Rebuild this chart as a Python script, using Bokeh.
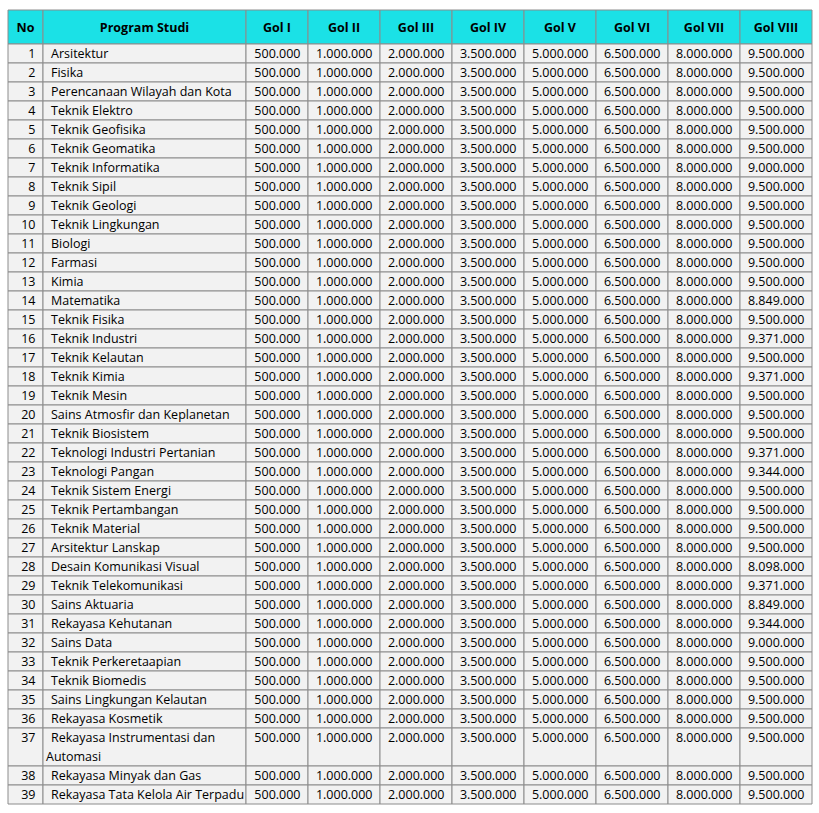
from bokeh.plotting import figure
from bokeh.models import ColumnDataSource, Range1d
from bokeh.core.properties import value
from bokeh.embed import file_html
from bokeh.resources import INLINE

# ---------------- data ----------------
headers = ["No", "Program Studi", "Gol I", "Gol II", "Gol III", "Gol IV",
           "Gol V", "Gol VI", "Gol VII", "Gol VIII"]

program_studi = [
    "Arsitektur", "Fisika", "Perencanaan Wilayah dan Kota", "Teknik Elektro",
    "Teknik Geofisika", "Teknik Geomatika", "Teknik Informatika", "Teknik Sipil",
    "Teknik Geologi", "Teknik Lingkungan", "Biologi", "Farmasi", "Kimia",
    "Matematika", "Teknik Fisika", "Teknik Industri", "Teknik Kelautan",
    "Teknik Kimia", "Teknik Mesin", "Sains Atmosfir dan Keplanetan",
    "Teknik Biosistem", "Teknologi Industri Pertanian", "Teknologi Pangan",
    "Teknik Sistem Energi", "Teknik Pertambangan", "Teknik Material",
    "Arsitektur Lanskap", "Desain Komunikasi Visual", "Teknik Telekomunikasi",
    "Sains Aktuaria", "Rekayasa Kehutanan", "Sains Data",
    "Teknik Perkeretaapian", "Teknik Biomedis", "Sains Lingkungan Kelautan",
    "Rekayasa Kosmetik", "Rekayasa Instrumentasi dan\nAutomasi",
    "Rekayasa Minyak dan Gas", "Rekayasa Tata Kelola Air Terpadu",
]

gol_1 = [500000, 500000, 500000, 500000, 500000, 500000, 500000, 500000,
         500000, 500000, 500000, 500000, 500000, 500000, 500000, 500000,
         500000, 500000, 500000, 500000, 500000, 500000, 500000, 500000,
         500000, 500000, 500000, 500000, 500000, 500000, 500000, 500000,
         500000, 500000, 500000, 500000, 500000, 500000, 500000]
gol_2 = [1000000, 1000000, 1000000, 1000000, 1000000, 1000000, 1000000,
         1000000, 1000000, 1000000, 1000000, 1000000, 1000000, 1000000,
         1000000, 1000000, 1000000, 1000000, 1000000, 1000000, 1000000,
         1000000, 1000000, 1000000, 1000000, 1000000, 1000000, 1000000,
         1000000, 1000000, 1000000, 1000000, 1000000, 1000000, 1000000,
         1000000, 1000000, 1000000, 1000000]
gol_3 = [2000000, 2000000, 2000000, 2000000, 2000000, 2000000, 2000000,
         2000000, 2000000, 2000000, 2000000, 2000000, 2000000, 2000000,
         2000000, 2000000, 2000000, 2000000, 2000000, 2000000, 2000000,
         2000000, 2000000, 2000000, 2000000, 2000000, 2000000, 2000000,
         2000000, 2000000, 2000000, 2000000, 2000000, 2000000, 2000000,
         2000000, 2000000, 2000000, 2000000]
gol_4 = [3500000, 3500000, 3500000, 3500000, 3500000, 3500000, 3500000,
         3500000, 3500000, 3500000, 3500000, 3500000, 3500000, 3500000,
         3500000, 3500000, 3500000, 3500000, 3500000, 3500000, 3500000,
         3500000, 3500000, 3500000, 3500000, 3500000, 3500000, 3500000,
         3500000, 3500000, 3500000, 3500000, 3500000, 3500000, 3500000,
         3500000, 3500000, 3500000, 3500000]
gol_5 = [5000000, 5000000, 5000000, 5000000, 5000000, 5000000, 5000000,
         5000000, 5000000, 5000000, 5000000, 5000000, 5000000, 5000000,
         5000000, 5000000, 5000000, 5000000, 5000000, 5000000, 5000000,
         5000000, 5000000, 5000000, 5000000, 5000000, 5000000, 5000000,
         5000000, 5000000, 5000000, 5000000, 5000000, 5000000, 5000000,
         5000000, 5000000, 5000000, 5000000]
gol_6 = [6500000, 6500000, 6500000, 6500000, 6500000, 6500000, 6500000,
         6500000, 6500000, 6500000, 6500000, 6500000, 6500000, 6500000,
         6500000, 6500000, 6500000, 6500000, 6500000, 6500000, 6500000,
         6500000, 6500000, 6500000, 6500000, 6500000, 6500000, 6500000,
         6500000, 6500000, 6500000, 6500000, 6500000, 6500000, 6500000,
         6500000, 6500000, 6500000, 6500000]
gol_7 = [8000000, 8000000, 8000000, 8000000, 8000000, 8000000, 8000000,
         8000000, 8000000, 8000000, 8000000, 8000000, 8000000, 8000000,
         8000000, 8000000, 8000000, 8000000, 8000000, 8000000, 8000000,
         8000000, 8000000, 8000000, 8000000, 8000000, 8000000, 8000000,
         8000000, 8000000, 8000000, 8000000, 8000000, 8000000, 8000000,
         8000000, 8000000, 8000000, 8000000]
gol_8 = [9500000, 9500000, 9500000, 9500000, 9500000, 9500000, 9000000,
         9500000, 9500000, 9500000, 9500000, 9500000, 9500000, 8849000,
         9500000, 9371000, 9500000, 9371000, 9500000, 9500000, 9500000,
         9371000, 9344000, 9500000, 9500000, 9500000, 9500000, 8098000,
         9371000, 8849000, 9344000, 9000000, 9500000, 9500000, 9500000,
         9500000, 9500000, 9500000, 9500000]

gol_cols = [gol_1, gol_2, gol_3, gol_4, gol_5, gol_6, gol_7, gol_8]

# ---------------- layout / style ----------------
COL_W = [35, 203, 62, 72, 72, 72, 72, 72, 72, 72]
HEADER_H = 34
LINE_H = 19
HEADER_BG = "#1BE1E6"
CELL_BG = "#F2F2F2"
BORDER = "#8C8C8C"
FONT = "Open Sans"
FSIZE = "12.5px"
TEXT_COLOR = "#000000"
OFF_X, OFF_Y = 7.5, 9.5   # where the table's top-left corner lands


def fmt(v):
    return f"{v:,}".replace(",", ".")


col_left = [sum(COL_W[:i]) for i in range(len(COL_W))]
col_right = [col_left[i] + COL_W[i] for i in range(len(COL_W))]

n = len(program_studi)
row_lines = [name.count("\n") + 1 for name in program_studi]
row_top = []
y = HEADER_H
for k in range(n):
    row_top.append(y)
    y += LINE_H * row_lines[k]

W, H = 813, 805
p = figure(width=W, height=H, output_backend="svg", toolbar_location=None,
           x_range=Range1d(-OFF_X, W - OFF_X),
           y_range=Range1d(H - OFF_Y, -OFF_Y),
           min_border=0, background_fill_color="white",
           border_fill_color="white")
p.axis.visible = False
p.grid.visible = False
p.outline_line_color = None

# cells
L, R, T, B, C = [], [], [], [], []
for j in range(len(COL_W)):
    L.append(col_left[j]); R.append(col_right[j])
    T.append(0); B.append(HEADER_H); C.append(HEADER_BG)
for k in range(n):
    for j in range(len(COL_W)):
        L.append(col_left[j]); R.append(col_right[j])
        T.append(row_top[k]); B.append(row_top[k] + LINE_H * row_lines[k])
        C.append(CELL_BG)
p.quad(left=L, right=R, top=T, bottom=B, fill_color=C,
       line_color=BORDER, line_width=1)

# header text
hx = [(col_left[j] + col_right[j]) / 2 for j in range(len(COL_W))]
hy = [HEADER_H / 2] * len(COL_W)
p.text(x=hx, y=hy, text=headers, text_font=value(FONT), text_font_size=FSIZE,
       text_font_style="bold", text_align="center", text_baseline="middle",
       text_color=TEXT_COLOR)

# No column
no_src = ColumnDataSource(dict(
    x=[col_right[0] - 7.5] * n,
    y=[row_top[k] + LINE_H / 2 for k in range(n)],
    t=[str(k + 1) for k in range(n)]))
p.text(x="x", y="y", text="t", source=no_src, text_font=value(FONT),
       text_font_size=FSIZE, text_align="right", text_baseline="middle",
       text_color=TEXT_COLOR)

# program names
px, py, pt = [], [], []
for k, name in enumerate(program_studi):
    for li, line in enumerate(name.split("\n")):
        px.append(col_left[1] + (8 if li == 0 else 3))
        py.append(row_top[k] + LINE_H * li + LINE_H / 2)
        pt.append(line)
p.text(x=px, y=py, text=pt, text_font=value(FONT), text_font_size=FSIZE,
       text_align="left", text_baseline="middle", text_color=TEXT_COLOR)

# value columns
vx, vy, vt = [], [], []
for c, vals in enumerate(gol_cols):
    j = c + 2
    for k in range(n):
        vx.append(col_right[j] - 7.5)
        vy.append(row_top[k] + LINE_H / 2)
        vt.append(fmt(vals[k]))
p.text(x=vx, y=vy, text=vt, text_font=value(FONT), text_font_size=FSIZE,
       text_align="right", text_baseline="middle", text_color=TEXT_COLOR)

open("out.html", "w").write(file_html(p, INLINE))
